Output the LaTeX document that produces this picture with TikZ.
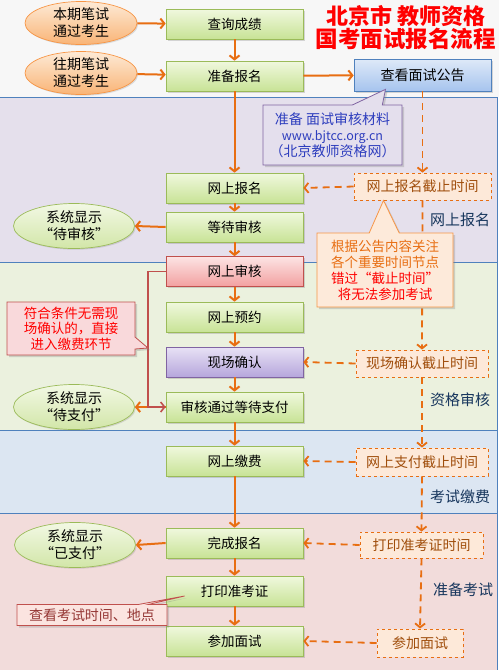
\documentclass[tikz,border=0pt]{standalone}
\usepackage{fontspec}
\setmainfont{Noto Sans CJK SC}
\usepackage{xcolor}
\usetikzlibrary{positioning, arrows.meta, shapes.geometric, shapes.callouts, shadows}

\definecolor{flowOrange}{RGB}{232,110,18}
\definecolor{deadText}{RGB}{160,78,12}
\definecolor{bandLine}{RGB}{79,129,189}
\definecolor{stageText}{RGB}{23,54,93}
\definecolor{linkRed}{RGB}{192,80,77}
\definecolor{lineGreen}{RGB}{155,187,89}
\definecolor{lineViolet}{RGB}{128,100,162}
\definecolor{lineBlue}{RGB}{79,129,189}
\definecolor{lineOrange}{RGB}{247,150,70}

\begin{document}
\begin{tikzpicture}[x=1pt, y=-1pt, >={Straight Barb[length=4pt,width=10pt]},
    font=\fontsize{13.5}{16}\selectfont,
    stepbox/.style={rectangle, draw=#1, line width=0.7pt, minimum width=137pt, minimum height=30pt,
        drop shadow={shadow xshift=1.5pt, shadow yshift=-1.5pt, opacity=0.3}},
    greenbox/.style={stepbox=lineGreen, top color={rgb,255:red,240;green,248;blue,222}, bottom color={rgb,255:red,200;green,227;blue,150}},
    redbox/.style={stepbox=linkRed, top color={rgb,255:red,252;green,228;blue,228}, bottom color={rgb,255:red,242;green,160;blue,160}},
    violetbox/.style={stepbox=lineViolet, top color={rgb,255:red,232;green,226;blue,245}, bottom color={rgb,255:red,182;green,166;blue,220}},
    bluebox/.style={stepbox=lineBlue, minimum height=32pt, top color={rgb,255:red,222;green,233;blue,248}, bottom color={rgb,255:red,166;green,196;blue,238}},
    oval/.style={ellipse, inner sep=0pt, line width=0.7pt, align=center, font=\fontsize{14}{17}\selectfont,
        drop shadow={shadow xshift=1.2pt, shadow yshift=-1.2pt, opacity=0.25}},
    orangeoval/.style={oval, draw=lineOrange, minimum width=112pt, minimum height=43pt,
        top color={rgb,255:red,253;green,234;blue,214}, bottom color={rgb,255:red,249;green,180;blue,118}},
    greenoval/.style={oval, draw=lineGreen, minimum width=121pt, minimum height=45pt,
        top color={rgb,255:red,242;green,248;blue,228}, bottom color={rgb,255:red,210;green,230;blue,168}},
    deadbox/.style={rectangle, draw=flowOrange, dashed, line width=0.9pt, fill={rgb,255:red,253;green,233;blue,217},
        text=deadText, font=\fontsize{14}{16}\selectfont, minimum height=27pt, inner xsep=2pt},
    flow/.style={draw=flowOrange, line width=2pt, ->},
    dline/.style={draw=flowOrange, line width=1.8pt, dash pattern=on 7pt off 5pt, ->},
    stage/.style={text=stageText, font=\fontsize{15}{17}\selectfont},
    note/.style={rectangle callout, line width=0.8pt, align=center,
        drop shadow={shadow xshift=2pt, shadow yshift=-2pt, opacity=0.3}}]

    \useasboundingbox (0,0) rectangle (499,670);

    % 1. Background stages
    \fill[gray!6] (0,0) rectangle (499,97);
    \filldraw[fill={rgb,255:red,229;green,224;blue,236}, draw=bandLine, line width=0.7pt] (-1,97) rectangle (497.5,262);
    \filldraw[fill={rgb,255:red,235;green,241;blue,222}, draw=bandLine, line width=0.7pt] (-1,262) rectangle (497.5,430);
    \filldraw[fill={rgb,255:red,220;green,230;blue,242}, draw=bandLine, line width=0.7pt] (-1,430) rectangle (497.5,513);
    \filldraw[fill={rgb,255:red,242;green,220;blue,219}, draw=bandLine, line width=0.7pt] (-1,513) rectangle (497.5,671);

    % 2. Title
    \node[text=red, font=\fontsize{22}{24}\selectfont\bfseries] (title1) at (406,16) {北京市 教师资格};
    \node[text=red, font=\fontsize{22.5}{24}\selectfont\bfseries] (title2) at (405.5,39) {国考面试报名流程};

    % 3. Main steps
    \node[greenbox] (score) at (234.5,24) {查询成绩};
    \node[greenbox] (prep) at (234.5,76) {准备报名};
    \node[greenbox] (apply) at (234.5,188) {网上报名};
    \node[greenbox] (wait) at (234.5,227) {等待审核};
    \node[redbox] (audit) at (234.5,271.5) {网上审核};
    \node[greenbox] (book) at (234.5,317) {网上预约};
    \node[violetbox] (confirm) at (234.5,362) {现场确认};
    \node[greenbox] (passed) at (234.5,407) {审核通过等待支付};
    \node[greenbox] (pay) at (234.5,461) {网上缴费};
    \node[greenbox] (done) at (234.5,543) {完成报名};
    \node[greenbox] (print) at (234.5,591) {打印准考证};
    \node[greenbox] (exam) at (234.5,641) {参加面试};

    % 4. Candidates and system status
    \node[orangeoval] (curr) at (81,23) {本期笔试\\通过考生};
    \node[orangeoval] (past) at (81,73) {往期笔试\\通过考生};
    \node[greenoval] (showA) at (74,226) {系统显示\\“待审核”};
    \node[greenoval] (showB) at (74,407) {系统显示\\“待支付”};
    \node[greenoval] (showC) at (75,545) {系统显示\\“已支付”};

    % 5. Notice and deadlines
    \node[bluebox, minimum width=137pt, font=\fontsize{14}{16}\selectfont] (pub) at (422.5,75) {查看面试公告};
    \node[deadbox, minimum width=137pt] (dApply) at (422.5,186.5) {网上报名截止时间};
    \node[deadbox, minimum width=132pt] (dConfirm) at (422,363.5) {现场确认截止时间};
    \node[deadbox, minimum width=132pt, minimum height=28pt] (dPay) at (422,462) {网上支付截止时间};
    \node[deadbox, minimum width=123pt, minimum height=26pt] (dPrint) at (421.5,545) {打印准考证时间};
    \node[deadbox, minimum width=86pt, minimum height=28pt] (dExam) at (420,643) {参加面试};

    % 6. Stage labels
    \node[stage] (sApply) at (460,220) {网上报名};
    \node[stage] (sAudit) at (460,400) {资格审核};
    \node[stage] (sPay) at (460,497) {考试缴费};
    \node[stage] (sExam) at (463,590) {准备考试};

    % 7. Flow arrows
    \draw[flow] (curr) -- (score);
    \draw[flow] (past) -- (prep);
    \draw[flow] (score) -- (prep);
    \draw[flow] (prep) -- (apply);
    \draw[flow] (prep) -- (pub);
    \draw[flow] (apply) -- (wait);
    \draw[flow] (wait) -- (audit);
    \draw[flow] (audit) -- (book);
    \draw[flow] (book) -- (confirm);
    \draw[flow] (confirm) -- (passed);
    \draw[flow] (passed) -- (pay);
    \draw[flow] (pay) -- (done);
    \draw[flow] (done) -- (print);
    \draw[flow] (print) -- (exam);
    \draw[flow] (wait.west) -- (showA.east);
    \draw[flow] (passed.west) -- (showB.east);
    \draw[flow] (done.west) -- (showC.east);

    % 8. Shortcut for candidates who skip on-site confirmation
    \coordinate (skipBot) at (148,407);
    \coordinate (skipMid) at (148,348);
    \draw[draw=linkRed, line width=1.6pt, ->] (audit.west) -| (skipBot) -- (passed.west);

    % 9. Deadline chain
    \draw[dline] (pub.south) -- (dApply.north);
    \draw[dline] (dApply.south) -- (dConfirm.north);
    \draw[dline] (dConfirm.south) -- (dPay.north);
    \draw[dline] (dPay.south) -- (dPrint.north);
    \draw[dline] (dPrint.south) -- (dExam.north);
    \draw[dline] (dApply.west) -- (apply.east);
    \draw[dline] (dConfirm.west) -- (confirm.east);
    \draw[dline] (dPay.west) -- (pay.east);
    \draw[dline] (dPrint.west) -- (done.east);
    \draw[dline] (dExam.west) -- (exam.east);

    % 10. Callouts
    \node[note, draw=lineViolet, fill={rgb,255:red,228;green,223;blue,237}, text={rgb,255:red,46;green,62;blue,190},
        minimum width=139pt, minimum height=60pt, inner ysep=1pt, callout pointer width=30pt,
        callout absolute pointer={([xshift=-37pt,yshift=2pt]pub.south)}, font=\fontsize{14}{16}\selectfont] (mat) at (332.5,135)
        {准备 面试审核材料\\{\fontsize{12.5}{16}\selectfont www.bjtcc.org.cn}\\（北京教师资格网）};
    \node[note, draw=lineOrange, fill={rgb,255:red,253;green,234;blue,218},
        minimum width=136pt, minimum height=74pt, inner ysep=1pt, callout pointer width=30pt,
        callout absolute pointer={([xshift=-39pt]dApply.south)}, font=\fontsize{13.5}{16}\selectfont] (note) at (385,270)
        {\textcolor{flowOrange}{根据公告内容关注}\\\textcolor{flowOrange}{各个重要时间节点}\\\textcolor{red}{错过“截止时间”}\\\textcolor{red}{将无法参加考试}};
    \node[note, draw=linkRed, fill={rgb,255:red,249;green,217;blue,219}, text=red,
        minimum width=128pt, minimum height=53pt, callout pointer width=12pt,
        callout absolute pointer={(skipMid)}, font=\fontsize{13.5}{15.5}\selectfont] (skip) at (71,328.5)
        {符合条件无需现\\场确认的，直接\\进入缴费环节};
    \node[note, draw=linkRed, fill={rgb,255:red,251;green,228;blue,224}, text={rgb,255:red,149;green,55;blue,53},
        minimum width=150pt, minimum height=21pt, inner ysep=1pt, callout pointer width=10pt,
        callout absolute pointer={([xshift=19pt,yshift=-5pt]print.west)}, font=\fontsize{14}{15}\selectfont] (place) at (92,615)
        {查看考试时间、地点};

\end{tikzpicture}
\end{document}
